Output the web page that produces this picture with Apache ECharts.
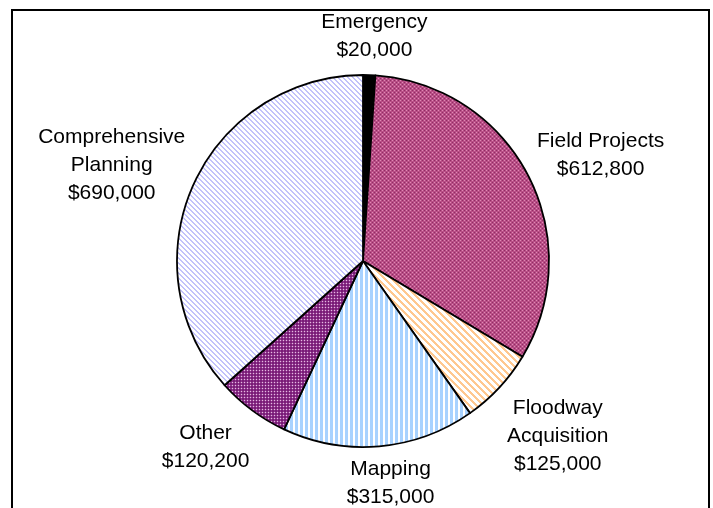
<!DOCTYPE html>
<html>
<head>
<meta charset="utf-8">
<title>Budget by Program</title>
<script src="https://cdn.jsdelivr.net/npm/echarts@6/dist/echarts.min.js"></script>
<style>
  html, body { margin: 0; padding: 0; background: #ffffff; }
  #chart { width: 713px; height: 508px; }
</style>
</head>
<body>
<div id="chart"></div>
<script>
// Program categories, clockwise from 12 o'clock
const categories = ['Emergency', 'Field Projects', 'Floodway\nAcquisition', 'Mapping', 'Other', 'Comprehensive\nPlanning'];
// Budget amounts in dollars
const amounts = [20000, 612800, 125000, 315000, 120200, 690000];

// ---- Layout & styling ----
const PIE_CX = 363, PIE_CY = 261, PIE_R = 186;
const LABEL_GAP = 6;
// fine adjustment of label placement, [dx, dy] per slice
const labelNudge = [[4, -3], [6, 15], [6, 0], [8, -1], [-14, -7], [1, 17]];

function makeTile(size, painter) {
  const c = document.createElement('canvas');
  c.width = size; c.height = size;
  const ctx = c.getContext('2d');
  for (let y = 0; y < size; y++) {
    for (let x = 0; x < size; x++) {
      ctx.fillStyle = painter(x, y);
      ctx.fillRect(x, y, 1, 1);
    }
  }
  return { image: c, repeat: 'repeat' };
}

// lattice pattern in magenta tones
const fieldFill = makeTile(4, (x, y) => {
  if ((x === 0 && y === 0) || (x === 2 && y === 2)) return '#e08ab5';
  if ((x === 2 && y === 0) || (x === 0 && y === 2)) return '#8f2d63';
  return '#b84e86';
});
// wide downward diagonal, peach
const floodFill = makeTile(7, (x, y) => (((x - y) % 7 + 7) % 7) < 3 ? '#ffc890' : '#ffffff');
// vertical stripes, light blue
const mapFill = makeTile(5, (x) => x < 3 ? '#a8d2ff' : '#ffffff');
// dotted purple
const otherFill = makeTile(3, (x, y) => (x === 1 && y === 1) ? '#e7b5e4' : (x === 1 || y === 1) ? '#8e3a8c' : '#7a1a78');
// light downward diagonal, lavender
const compFill = makeTile(5, (x, y) => (((x - y) % 5 + 5) % 5) < 2 ? '#c2c2fa' : '#ffffff');

const fills = ['#000000', fieldFill, floodFill, mapFill, otherFill, compFill];

const total = amounts.reduce((a, b) => a + b, 0);
function midAngle(i) {
  let before = 0;
  for (let k = 0; k < i; k++) before += amounts[k];
  return ((before + amounts[i] / 2) / total) * Math.PI * 2; // clockwise from top
}

const chart = echarts.init(document.getElementById('chart'), null, { renderer: 'canvas' });

chart.setOption({
  backgroundColor: '#ffffff',
  animation: false,
  graphic: [{
    type: 'rect',
    shape: { x: 12, y: 10, width: 697, height: 600 },
    style: { fill: 'none', stroke: '#000000', lineWidth: 2 },
    silent: true
  }],
  series: [{
    type: 'pie',
    center: [PIE_CX, PIE_CY],
    radius: PIE_R,
    startAngle: 90,
    clockwise: true,
    avoidLabelOverlap: false,
    data: categories.map((name, i) => ({
      name: name,
      value: amounts[i],
      itemStyle: { color: fills[i] }
    })),
    itemStyle: { borderColor: '#000000', borderWidth: 1.8 },
    label: {
      show: true,
      position: 'outside',
      color: '#000000',
      fontFamily: '"Liberation Sans", Arial, sans-serif',
      fontSize: 21,
      lineHeight: 28,
      align: 'center',
      formatter: (p) => p.name + '\n$' + p.value.toLocaleString('en-US')
    },
    labelLine: { show: false },
    labelLayout: function (params) {
      const i = params.dataIndex;
      const a = midAngle(i);
      const dx = Math.sin(a), dy = -Math.cos(a);
      const w = params.labelRect.width, h = params.labelRect.height;
      const d = PIE_R + LABEL_GAP + (w / 2) * Math.abs(dx) + (h / 2) * Math.abs(dy);
      return {
        x: PIE_CX + d * dx + labelNudge[i][0],
        y: PIE_CY + d * dy + labelNudge[i][1],
        align: 'center',
        verticalAlign: 'middle'
      };
    },
    emphasis: { disabled: true }
  }]
});
</script>
</body>
</html>
